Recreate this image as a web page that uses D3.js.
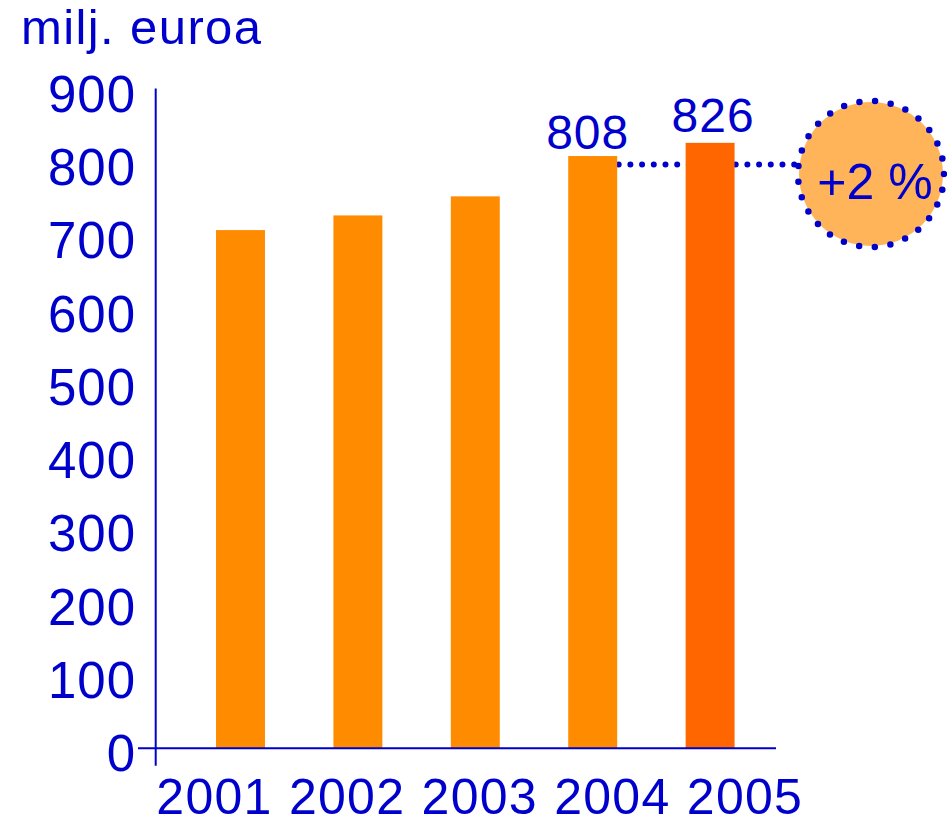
<!DOCTYPE html>
<html>
<head>
<meta charset="utf-8">
<script src="https://cdn.jsdelivr.net/npm/d3@7/dist/d3.min.js"></script>
<style>
  html, body { margin: 0; padding: 0; background: #ffffff; }
  svg { display: block; }
  text { font-family: "Liberation Sans", Arial, sans-serif; fill: #0000cc; }
</style>
</head>
<body>
<svg id="chart" width="947" height="825"></svg>
<script>
// ---- data ----
const years = ["2001", "2002", "2003", "2004", "2005"];
const values = [707, 727, 753, 808, 826];
const yTicks = [0, 100, 200, 300, 400, 500, 600, 700, 800, 900];
const labelledYears = ["2004", "2005"];
const highlightYear = "2005";
const yTitle = "milj. euroa";
const changeLabel = "+2 %";

const data = years.map((y, i) => ({ year: y, value: values[i] }));

// ---- styles ----
const blue = "#0000cc";
const barColor = "#ff8c00";
const highlightColor = "#ff6600";
const circleFill = "#ffb45a";

const svg = d3.select("#chart");

// ---- scales ----
const y = d3.scaleLinear().domain([0, 900]).range([748.3, 88.6]);
const x = d3.scaleBand().domain(years).range([181.8, 768.8])
  .paddingInner(0.583).paddingOuter(0.2915);
const xLab = d3.scalePoint().domain(years).range([214, 744.5]);

// ---- title ----
svg.append("text")
  .attr("x", 21).attr("y", 44)
  .attr("font-size", 49)
  .attr("letter-spacing", 1.4)
  .text(yTitle);

// ---- dotted connector (behind bars) ----
const refY = y(808) + 8.5;
svg.append("line")
  .attr("x1", x("2004") + x.bandwidth() + 1.5)
  .attr("x2", 800)
  .attr("y1", refY).attr("y2", refY)
  .attr("stroke", blue)
  .attr("stroke-width", 6)
  .attr("stroke-linecap", "round")
  .attr("stroke-dasharray", "0 11.7");

// ---- bars ----
svg.append("g").selectAll("rect").data(data).join("rect")
  .attr("x", d => x(d.year))
  .attr("width", x.bandwidth())
  .attr("y", d => y(d.value))
  .attr("height", d => y(0) - y(d.value))
  .attr("fill", d => d.year === highlightYear ? highlightColor : barColor);

// ---- value labels ----
svg.append("g").selectAll("text")
  .data(data.filter(d => labelledYears.includes(d.year))).join("text")
  .attr("x", d => x(d.year) + x.bandwidth() / 2 + (d.year === "2004" ? -5 : 3))
  .attr("y", d => y(d.value) - (d.year === "2004" ? 7 : 11))
  .attr("text-anchor", "middle")
  .attr("font-size", 48)
  .attr("letter-spacing", 1)
  .text(d => d.value);

// ---- y axis labels ----
const yAxis = d3.axisLeft(y).tickValues(yTicks).tickSize(0).tickPadding(0);
const gy = svg.append("g").attr("transform", "translate(136,0)").call(yAxis);
gy.select(".domain").remove();
gy.selectAll("text")
  .attr("x", 0)
  .attr("dy", "22.5px")
  .attr("fill", blue)
  .attr("font-size", 51)
  .attr("letter-spacing", 1)
  .attr("font-family", '"Liberation Sans", Arial, sans-serif');

// ---- x axis labels ----
const xAxis = d3.axisBottom(xLab).tickSize(0).tickPadding(0);
const gx = svg.append("g").attr("transform", "translate(0,0)").call(xAxis);
gx.select(".domain").remove();
gx.selectAll("text")
  .attr("y", 814)
  .attr("dy", 0)
  .attr("fill", blue)
  .attr("font-size", 50)
  .attr("letter-spacing", 1.3)
  .attr("font-family", '"Liberation Sans", Arial, sans-serif');

// ---- axis lines ----
svg.append("line")
  .attr("x1", 155.7).attr("x2", 155.7)
  .attr("y1", y(900)).attr("y2", y(0) + 17.4)
  .attr("stroke", blue).attr("stroke-width", 2);
svg.append("line")
  .attr("x1", 138).attr("x2", 776)
  .attr("y1", y(0)).attr("y2", y(0))
  .attr("stroke", blue).attr("stroke-width", 2);

// ---- change badge ----
const cx = 871, cy = 174;
svg.append("circle")
  .attr("cx", cx).attr("cy", cy).attr("r", 72)
  .attr("fill", circleFill);
svg.append("circle")
  .attr("cx", cx).attr("cy", cy).attr("r", 73)
  .attr("fill", "none")
  .attr("stroke", blue)
  .attr("stroke-width", 6.5)
  .attr("stroke-linecap", "round")
  .attr("stroke-dasharray", "0 15.8");
svg.append("text")
  .attr("x", cx + 4).attr("y", 199)
  .attr("text-anchor", "middle")
  .attr("font-size", 50)
  .text(changeLabel);
</script>
</body>
</html>
